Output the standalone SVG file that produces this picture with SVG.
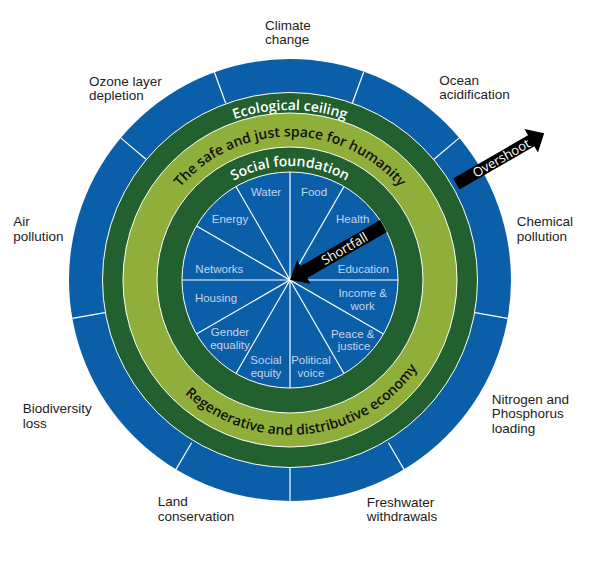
<svg xmlns="http://www.w3.org/2000/svg" xmlns:xlink="http://www.w3.org/1999/xlink" width="599" height="571" viewBox="0 0 599 571">
<style>
.lbl{font-family:"Liberation Sans",Arial,sans-serif;font-size:13.5px;fill:#1d1d1b}
.pie{font-family:"Liberation Sans",Arial,sans-serif;font-size:11.5px;fill:#c3d5ea;text-anchor:middle}
.ring{font-family:"Open Sans","Liberation Sans",Arial,sans-serif;font-size:14px;font-weight:600;text-anchor:middle}
.arr{font-family:"Open Sans","Liberation Sans",Arial,sans-serif;font-size:13px;fill:#ffffff;text-anchor:middle}
.div{stroke:#ffffff;stroke-width:1.2}
</style>
<defs>
<path id="pEco" d="M120,280 A170,170 0 0 1 460,280"/>
<path id="pSafe" d="M146.5,280 A143.5,143.5 0 0 1 433.5,280"/>
<path id="pSoc" d="M176,280 A114,114 0 0 1 404,280"/>
<path id="pReg" d="M135,280 A155,155 0 0 0 445,280"/>
</defs>
<rect width="599" height="571" fill="#ffffff"/>
<g id="ceiling-ring">
<circle cx="290" cy="280" r="221" fill="#0b5ea8"/>
<g class="div">
<line x1="225.7" y1="103.3" x2="214.4" y2="72.3"/>
<line x1="352.3" y1="103.3" x2="363.6" y2="72.3"/>
<line x1="434.0" y1="159.2" x2="459.3" y2="137.9"/>
<line x1="475.1" y1="312.6" x2="507.6" y2="318.4"/>
<line x1="388.4" y1="442.8" x2="404.9" y2="470.9"/>
<line x1="290" y1="467.5" x2="290" y2="501"/>
<line x1="191.6" y1="442.8" x2="175.1" y2="470.9"/>
<line x1="104.9" y1="312.6" x2="72.4" y2="318.4"/>
<line x1="146.0" y1="159.2" x2="120.7" y2="137.9"/>
</g>
</g>
<g id="ecological-ceiling">
<circle cx="290" cy="280" r="187.5" fill="#22602f" stroke="#ffffff" stroke-width="1"/>
<text class="ring" fill="#ffffff"><textPath xlink:href="#pEco" href="#pEco" startOffset="50%">Ecological ceiling</textPath></text>
</g>
<g id="safe-space">
<circle cx="290" cy="280" r="167" fill="#8fae3a" stroke="#ffffff" stroke-width="1"/>
<text class="ring" fill="#111111"><textPath xlink:href="#pSafe" href="#pSafe" startOffset="50%">The safe and just space for humanity</textPath></text>
<text class="ring" fill="#111111"><textPath xlink:href="#pReg" href="#pReg" startOffset="53.5%">Regenerative and distributive economy</textPath></text>
</g>
<g id="social-foundation">
<circle cx="290" cy="280" r="133" fill="#22602f" stroke="#ffffff" stroke-width="1"/>
<text class="ring" fill="#ffffff"><textPath xlink:href="#pSoc" href="#pSoc" startOffset="50%">Social foundation</textPath></text>
</g>
<g id="shortfall-pie">
<circle cx="290" cy="280" r="108" fill="#0b5ea8" stroke="#ffffff" stroke-width="1"/>
<g class="div">
<line x1="290" y1="172" x2="290" y2="388"/>
<line x1="182" y1="280" x2="398" y2="280"/>
<line x1="344" y1="186.5" x2="236" y2="373.5"/>
<line x1="383.5" y1="226" x2="196.5" y2="334"/>
<line x1="383.5" y1="334" x2="196.5" y2="226"/>
<line x1="344" y1="373.5" x2="236" y2="186.5"/>
</g>
<text class="pie" x="266" y="195.5">Water</text>
<text class="pie" x="314" y="195.5">Food</text>
<text class="pie" x="230" y="223.3">Energy</text>
<text class="pie" x="352.7" y="223.3">Health</text>
<text class="pie" x="219.3" y="273.3">Networks</text>
<text class="pie" x="363.3" y="273.3">Education</text>
<text class="pie" x="216" y="301.7">Housing</text>
<text class="pie" x="362.7" y="297.3">Income &amp;</text>
<text class="pie" x="362.7" y="310">work</text>
<text class="pie" x="230" y="336">Gender</text>
<text class="pie" x="230" y="348.7">equality</text>
<text class="pie" x="352.7" y="337.7">Peace &amp;</text>
<text class="pie" x="354" y="350.3">justice</text>
<text class="pie" x="266" y="364">Social</text>
<text class="pie" x="266" y="376.7">equity</text>
<text class="pie" x="311" y="364">Political</text>
<text class="pie" x="311" y="376.7">voice</text>
</g>
<g id="connectors">
<g id="shortfall-arrow" transform="translate(290,280) rotate(-30)">
<polygon points="0,0 16,-13.5 16,-6.8 108,-6.8 108,6.8 16,6.8 16,13.5" fill="#000000"/>
<text class="arr" x="63" y="4.6">Shortfall</text>
</g>
<g id="overshoot-arrow" transform="translate(290,280) rotate(-30)">
<polygon points="192,-6.3 278.5,-6.3 278.5,-13.5 293.5,0 278.5,13.5 278.5,6.3 192,6.3" fill="#000000"/>
<text class="arr" x="244" y="4.6">Overshoot</text>
</g>
</g>
<g id="labels">
<text class="lbl" x="265" y="29.5">Climate</text>
<text class="lbl" x="265" y="44">change</text>
<text class="lbl" x="89" y="86">Ozone layer</text>
<text class="lbl" x="89" y="100">depletion</text>
<text class="lbl" x="439.3" y="85">Ocean</text>
<text class="lbl" x="439.3" y="99">acidification</text>
<text class="lbl" x="13.3" y="226">Air</text>
<text class="lbl" x="13.3" y="240.5">pollution</text>
<text class="lbl" x="516.7" y="226">Chemical</text>
<text class="lbl" x="516.7" y="240.5">pollution</text>
<text class="lbl" x="22.7" y="413.3">Biodiversity</text>
<text class="lbl" x="22.7" y="427.5">loss</text>
<text class="lbl" x="491.7" y="404">Nitrogen and</text>
<text class="lbl" x="491.7" y="418.3">Phosphorus</text>
<text class="lbl" x="491.7" y="432.5">loading</text>
<text class="lbl" x="157.7" y="506">Land</text>
<text class="lbl" x="157.7" y="520.5">conservation</text>
<text class="lbl" x="366.7" y="506.7">Freshwater</text>
<text class="lbl" x="366.7" y="521">withdrawals</text>
</g>
</svg>
